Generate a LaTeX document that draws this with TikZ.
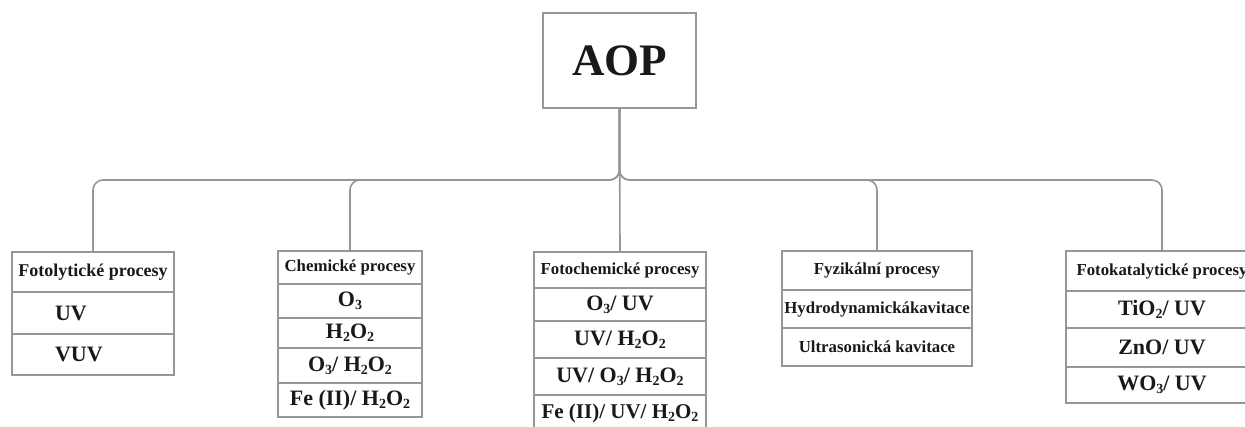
\documentclass[tikz,border=0pt]{standalone}
\usepackage{fontspec}
\setmainfont{Liberation Serif}
\usepackage{tikz}
\definecolor{linegray}{RGB}{150,150,150}
\definecolor{inkgray}{RGB}{25,25,25}
\newcommand{\chsub}[1]{\raisebox{-0.28ex}{\fontsize{14}{14}\selectfont #1}}
\tikzset{
	box/.style={draw=linegray, line width=1.6pt, inner sep=0pt, text=inkgray, font=\bfseries\fontsize{22}{26}\selectfont},
	hdr/.style={box, font=\bfseries\fontsize{16.8}{20}\selectfont},
	leftrow/.style={box, align=left, inner xsep=43pt, text width=76pt},
	conn/.style={draw=linegray, line width=1.6pt, rounded corners=10pt}
}
\begin{document}
\begin{tikzpicture}[x=1pt, y=-1pt]

	\useasboundingbox (0,0) rectangle (1245,426);
	\clip (0,0) rectangle (1245,426);

	\node[box, minimum width=153, minimum height=95, font=\bfseries\fontsize{45}{50}\selectfont] (aop) at (619.5,60.5) {AOP};
	\coordinate (bus) at (619.5,180);

	% Fotolyticke
	\node[hdr, minimum width=162, minimum height=40, font=\bfseries\fontsize{18}{21}\selectfont] (fl) at (93,272) {Fotolytické procesy};
	\node[leftrow, minimum height=42] (fl1) at (93,313) {UV};
	\node[leftrow, minimum height=41] (fl2) at (93,354.5) {VUV};

	% Chemicke
	\node[hdr, minimum width=144, minimum height=33] (ch) at (350,267.5) {Chemické procesy};
	\node[box, minimum width=144, minimum height=34] (ch1) at (350,301) {O\chsub{3}};
	\node[box, minimum width=144, minimum height=30] (ch2) at (350,333) {H\chsub{2}O\chsub{2}};
	\node[box, minimum width=144, minimum height=35] (ch3) at (350,365.5) {O\chsub{3}/ H\chsub{2}O\chsub{2}};
	\node[box, minimum width=144, minimum height=34] (ch4) at (350,400) {Fe (II)/ H\chsub{2}O\chsub{2}};

	% Fotochemicke
	\node[hdr, minimum width=172, minimum height=36] (fc) at (620,270) {Fotochemické procesy};
	\node[box, minimum width=172, minimum height=33] (fc1) at (620,304.5) {O\chsub{3}/ UV};
	\node[box, minimum width=172, minimum height=37] (fc2) at (620,339.5) {UV/ H\chsub{2}O\chsub{2}};
	\node[box, minimum width=172, minimum height=37] (fc3) at (620,376.5) {UV/ O\chsub{3}/ H\chsub{2}O\chsub{2}};
	\node[box, minimum width=172, minimum height=37, font=\bfseries\fontsize{21}{24}\selectfont] (fc4) at (620,413.5) {Fe (II)/ UV/ H\chsub{2}O\chsub{2}};

	% Fyzikalni
	\node[hdr, minimum width=190, minimum height=39] (fz) at (877,270.5) {Fyzikální procesy};
	\node[hdr, minimum width=190, minimum height=38] (fz1) at (877,309) {Hydrodynamickákavitace};
	\node[hdr, minimum width=190, minimum height=38] (fz2) at (877,347) {Ultrasonická kavitace};

	% Fotokatalyticke
	\node[hdr, minimum width=192, minimum height=40] (fk) at (1162,271) {Fotokatalytické procesy};
	\node[box, minimum width=192, minimum height=37] (fk1) at (1162,309.5) {TiO\chsub{2}/ UV};
	\node[box, minimum width=192, minimum height=39] (fk2) at (1162,347.5) {ZnO/ UV};
	\node[box, minimum width=192, minimum height=36] (fk3) at (1162,385) {WO\chsub{3}/ UV};

	\foreach \c in {fl, ch, fz, fk}
	{
		\draw[conn] (aop.south) -- (bus) -| (\c.north);
	};
	\draw[conn] (aop.south) -- (fc.north);

\end{tikzpicture}
\end{document}
